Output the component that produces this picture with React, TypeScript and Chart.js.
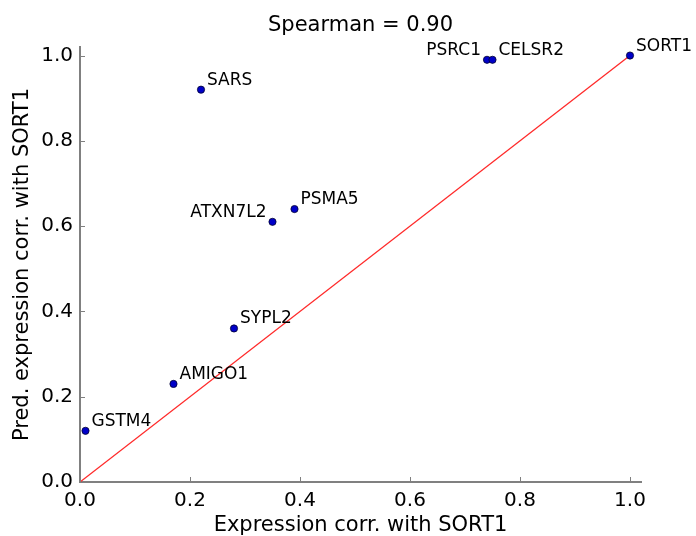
import React, { useEffect, useRef } from "react";
import { Chart, registerables } from "chart.js";

Chart.register(...registerables);

const genes = ["GSTM4", "AMIGO1", "SYPL2", "ATXN7L2", "PSMA5", "SARS", "PSRC1", "CELSR2", "SORT1"];
const exprCorr = [0.01, 0.17, 0.28, 0.35, 0.39, 0.22, 0.74, 0.75, 1.0];
const predCorr = [0.12, 0.23, 0.36, 0.61, 0.64, 0.92, 0.99, 0.99, 1.0];
const labelLeft = [false, false, false, true, false, false, true, false, false];
const tickValues = [0, 0.2, 0.4, 0.6, 0.8, 1.0];
const diagX = [0, 1];
const diagY = [0, 1];
const titleText = "Spearman = 0.90";
const xTitle = "Expression corr. with SORT1";
const yTitle = "Pred. expression corr. with SORT1";

const FONT = '"DejaVu Sans", sans-serif';

const overlay = {
  id: "overlay",
  afterDraw(chart: any) {
    const ctx = chart.ctx;
    const { left, right, top, bottom } = chart.chartArea;
    const xs = chart.scales.x;
    const ys = chart.scales.y;
    ctx.save();
    // inward ticks
    ctx.strokeStyle = "#808080";
    ctx.lineWidth = 1;
    tickValues.forEach((v) => {
      const px = Math.round(xs.getPixelForValue(v)) + 0.5;
      ctx.beginPath();
      ctx.moveTo(px, bottom);
      ctx.lineTo(px, bottom - 5);
      ctx.stroke();
      const py = Math.round(ys.getPixelForValue(v)) + 0.5;
      ctx.beginPath();
      ctx.moveTo(left, py);
      ctx.lineTo(left + 5, py);
      ctx.stroke();
    });
    // point labels
    ctx.fillStyle = "#000";
    ctx.font = `17px ${FONT}`;
    ctx.textBaseline = "alphabetic";
    const meta = chart.getDatasetMeta(0);
    meta.data.forEach((el: any, i: number) => {
      const left_ = labelLeft[i];
      ctx.textAlign = left_ ? "right" : "left";
      ctx.fillText(genes[i], left_ ? el.x - 6 : el.x + 6, el.y - 5);
    });
    // title
    const cx = (left + right) / 2;
    ctx.font = `21px ${FONT}`;
    ctx.textAlign = "center";
    ctx.fillText(titleText, cx, 31);
    ctx.fillText(xTitle, cx, 531);
    ctx.translate(28, (top + bottom) / 2);
    ctx.rotate(-Math.PI / 2);
    ctx.fillText(yTitle, 0, 0);
    ctx.restore();
  },
};

export default function App() {
  const ref = useRef<HTMLCanvasElement>(null);
  useEffect(() => {
    if (!ref.current) return;
    const ticksFromList = (scale: any) => {
      scale.ticks = tickValues.map((v) => ({ value: v }));
    };
    const chart = new Chart(ref.current, {
      type: "scatter",
      data: {
        datasets: [
          {
            type: "scatter",
            data: exprCorr.map((x, i) => ({ x, y: predCorr[i] })),
            backgroundColor: "#0000c8",
            borderColor: "#000030",
            borderWidth: 0.8,
            pointRadius: 3.6,
            order: 0,
          },
          {
            type: "line",
            data: diagX.map((x, i) => ({ x, y: diagY[i] })),
            borderColor: "#ff2a2a",
            borderWidth: 1.3,
            pointRadius: 0,
            fill: false,
            order: 1,
          } as any,
        ],
      },
      options: {
        responsive: false,
        animation: false,
        events: [],
        layout: { padding: { top: 47, right: 55, left: 0, bottom: 0 } },
        plugins: { legend: { display: false }, tooltip: { enabled: false }, title: { display: false } },
        scales: {
          x: {
            type: "linear",
            min: 0,
            max: 1.02,
            afterBuildTicks: ticksFromList,
            afterFit: (s: any) => {
              s.height = 54;
            },
            grid: { display: false, drawTicks: false },
            border: { display: true, color: "#808080", width: 2 },
            ticks: {
              color: "#000",
              font: { family: FONT, size: 20 },
              padding: 7,
              callback: (v: any) => Number(v).toFixed(1),
            },
          },
          y: {
            type: "linear",
            min: 0,
            max: 1.02,
            afterBuildTicks: ticksFromList,
            afterFit: (s: any) => {
              s.width = 80;
            },
            grid: { display: false, drawTicks: false },
            border: { display: true, color: "#808080", width: 2 },
            ticks: {
              color: "#000",
              font: { family: FONT, size: 20 },
              padding: 7,
              callback: (v: any) => Number(v).toFixed(1),
            },
          },
        },
      },
      plugins: [overlay],
    });
    return () => chart.destroy();
  }, []);
  return (
    <div style={{ position: "fixed", left: 0, top: 0, width: 696, height: 536, background: "#fff" }}>
      <canvas ref={ref} width={696} height={536} style={{ display: "block" }} />
    </div>
  );
}
